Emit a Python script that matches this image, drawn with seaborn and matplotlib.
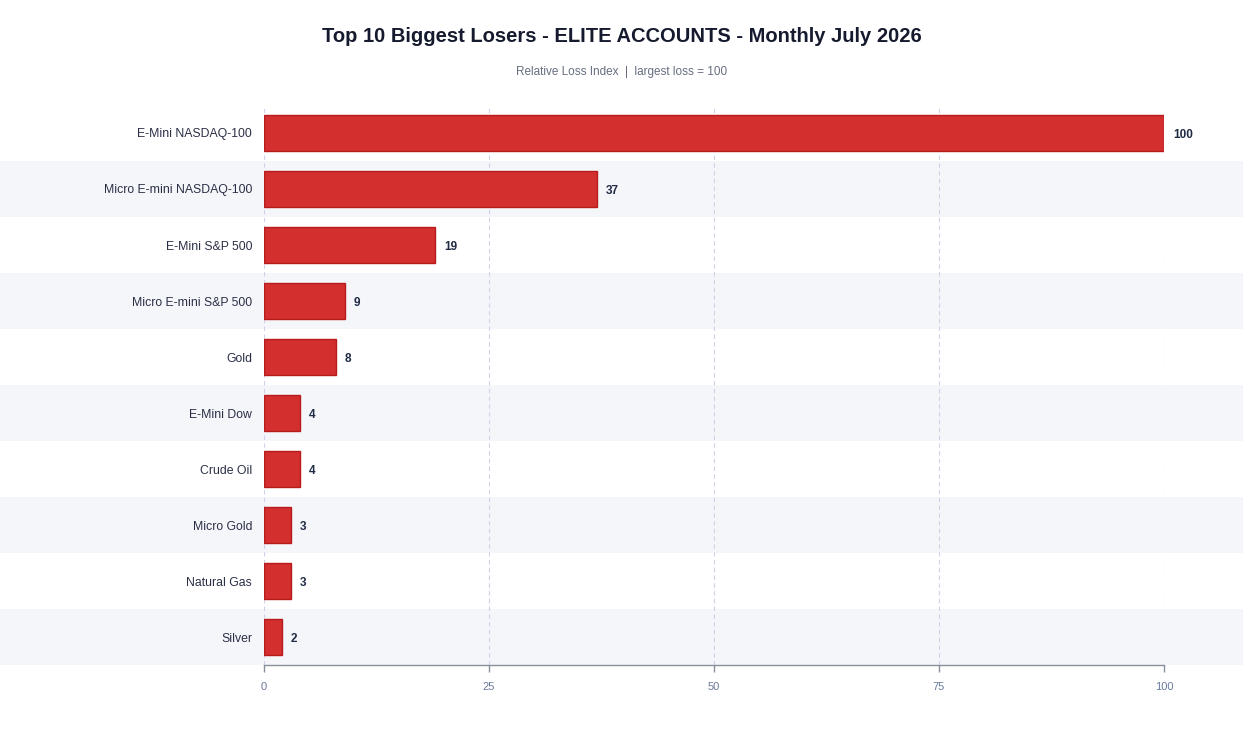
import matplotlib
matplotlib.use("Agg")
import matplotlib.pyplot as plt
from matplotlib.patches import Rectangle
from matplotlib.transforms import blended_transform_factory
import seaborn as sns
import pandas as pd

categories = ["E-Mini NASDAQ-100", "Micro E-mini NASDAQ-100", "E-Mini S&P 500",
              "Micro E-mini S&P 500", "Gold", "E-Mini Dow", "Crude Oil",
              "Micro Gold", "Natural Gas", "Silver"]
values = [100, 37, 19, 9, 8, 4, 4, 3, 3, 2]
x_ticks = [0, 25, 50, 75, 100]

title = "Top 10 Biggest Losers - ELITE ACCOUNTS - Monthly July 2026"
subtitle = "Relative Loss Index  |  largest loss = 100"

df = pd.DataFrame({"instrument": categories, "index": values})

sns.set_theme(style="white")
plt.rcParams["font.family"] = ["Liberation Sans", "DejaVu Sans"]

W, H = 1243, 729
fig = plt.figure(figsize=(W / 100, H / 100), dpi=100)
left, right, top, bottom = 264, 1164, 105, 665
ax = fig.add_axes([left / W, 1 - bottom / H, (right - left) / W, (bottom - top) / H])

sns.barplot(data=df, x="index", y="instrument", orient="h", ax=ax,
            color="#d32f2f", edgecolor="#b71c1c", linewidth=1.0,
            width=0.66, saturation=1, zorder=3)

ax.set_xlim(0, 100)
ax.set_ylim(len(categories) - 0.5, -0.5)

# alternating full-width stripes
trans = blended_transform_factory(fig.transFigure, ax.transData)
for i in range(len(categories)):
    if i % 2 == 1:
        r = Rectangle((0, i - 0.5), 1, 1, transform=trans, facecolor="#f5f6fa",
                      edgecolor="none", zorder=0, clip_on=False)
        ax.add_patch(r)

ax.set_xticks(x_ticks)
ax.set_xticklabels([str(t) for t in x_ticks])
ax.grid(axis="x", linestyle=(0, (4, 3)), color="#d0d2e8", linewidth=0.8, zorder=1)
ax.grid(axis="y", visible=False)
ax.set_axisbelow(True)

for s in ["top", "right", "left"]:
    ax.spines[s].set_visible(False)
ax.spines["bottom"].set_color("#8a8f9c")
ax.spines["bottom"].set_linewidth(1.0)
ax.patch.set_alpha(0)

ax.tick_params(axis="x", colors="#8a8f9c", labelcolor="#6a7b9c", length=5,
               width=1, labelsize=8, pad=7, direction="out", bottom=True)
ax.tick_params(axis="y", length=0, labelsize=8.8, labelcolor="#2a2f45", pad=8.5)
ax.set_xlabel("")
ax.set_ylabel("")

for i, v in enumerate(values):
    ax.annotate(str(v), (v, i), xytext=(6.5, 0), textcoords="offset points",
                va="center_baseline", ha="left", fontsize=8.5, fontweight="bold",
                color="#1f2a44", clip_on=False, zorder=4)

fig.text(0.5, 1 - 36 / H, title, ha="center", va="center", fontsize=14.5,
         fontweight="bold", color="#151a2e")
fig.text(0.5, 1 - 72.5 / H, subtitle, ha="center", va="center", fontsize=8.5,
         color="#666d80")

fig.savefig("out.png", dpi=100, facecolor="white")
